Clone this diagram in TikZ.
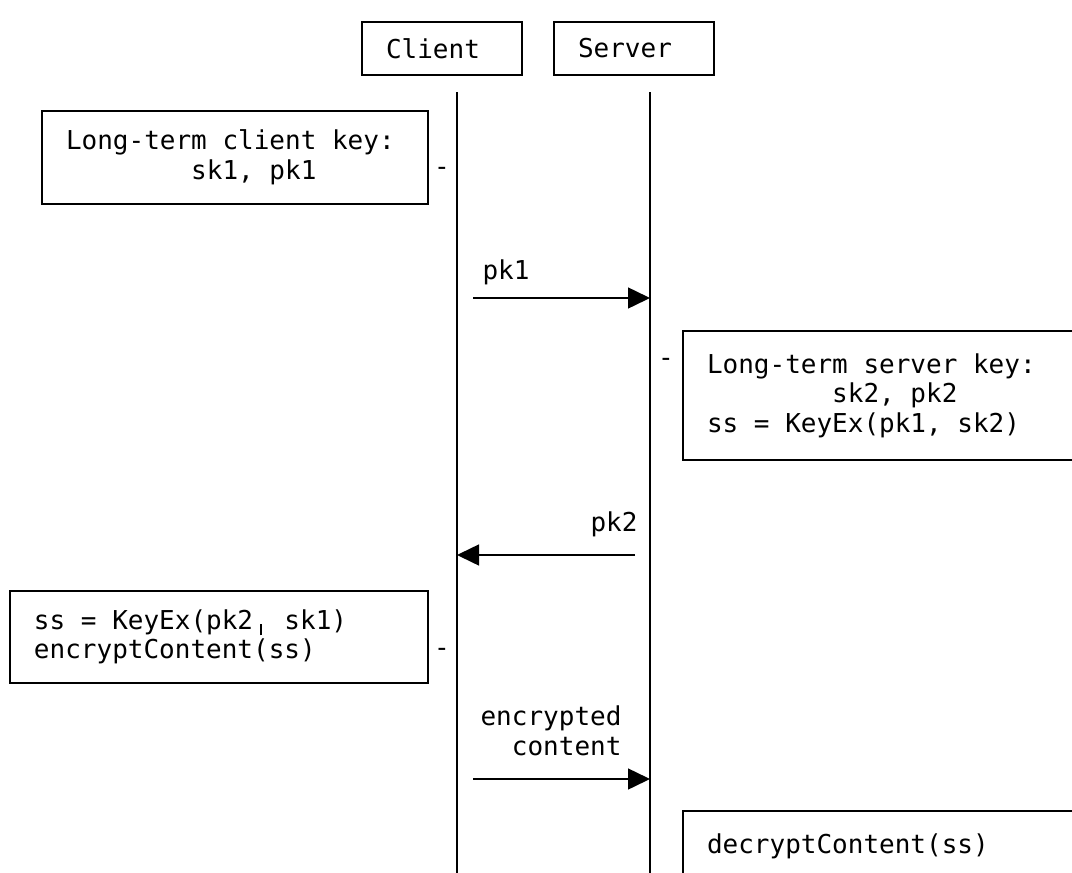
\documentclass[tikz,border=0pt]{standalone}
\usepackage{fontspec}
\setmonofont{DejaVu Sans Mono}
\usetikzlibrary{positioning, arrows.meta}
\newcommand\seqfont{\ttfamily\fontsize{26}{29.5}\selectfont}

\begin{document}
\begin{tikzpicture}[x=1pt, y=-1pt,
  font=\seqfont,
  actor/.style={draw, line width=2pt, minimum height=53pt, text width=112pt, inner xsep=24pt, align=left},
  note/.style={draw, line width=2pt, anchor=north west, inner xsep=24pt, align=left,
    execute at begin node={\spaceskip=0.602em\relax}},
  life/.style={line width=2pt},
  msg/.style={line width=1.5pt, -{Triangle[length=22pt, width=21pt]}}]
  \useasboundingbox (0,0) rectangle (1072,873);
  \clip (0,0) rectangle (1072,873);

  % participants
  \node[actor] (client) at (442,48.5) {Client};
  \node[actor] (server) at (634,48.5) {Server};
  \coordinate (cl top) at (457,92);
  \coordinate (cl end) at (457,880);
  \coordinate (sv top) at (650,92);
  \coordinate (sv end) at (650,880);
  \draw[life] (cl top) -- (cl end);
  \draw[life] (sv top) -- (sv end);

  % notes
  \node[note, minimum width=386pt, text width=338pt, minimum height=93pt] (client key) at (41,110)
    {Long-term client key:\\\phantom{xxxxxxxx}sk1, pk1};
  \node (dash1) at (442,171) {-};

  \node[note, minimum width=420pt, text width=372pt, minimum height=129pt] (server key) at (682,330)
    {Long-term server key:\\\phantom{xxxxxxxx}sk2, pk2\\ss = KeyEx(pk1, sk2)};
  \node (dash2) at (666,362) {-};

  \node[note, minimum width=418pt, text width=370pt, minimum height=92pt] (encrypt) at (9,590)
    {ss = KeyEx(pk2\makebox[0.602em]{\rule[-0.23em]{1.5pt}{0.42em}} sk1)\\encryptContent(ss)};
  \node (dash3) at (442,652) {-};

  \node[note, minimum width=420pt, text width=372pt, minimum height=70pt] (decrypt) at (682,810)
    {decryptContent(ss)};

  % messages
  \coordinate (m1) at (473,298);
  \node[anchor=base west] (pk1) at (479,279) {pk1};
  \draw[msg] (m1) -- (m1 -| sv top);

  \coordinate (m2) at (635,555);
  \node[anchor=base east] (pk2) at (641,531) {pk2};
  \draw[msg] (m2) -- (m2 -| cl top);

  \coordinate (m3) at (473,779);
  \node[anchor=east, align=right] (payload) at (625,731) {encrypted\\content};
  \draw[msg] (m3) -- (m3 -| sv top);
\end{tikzpicture}
\end{document}
